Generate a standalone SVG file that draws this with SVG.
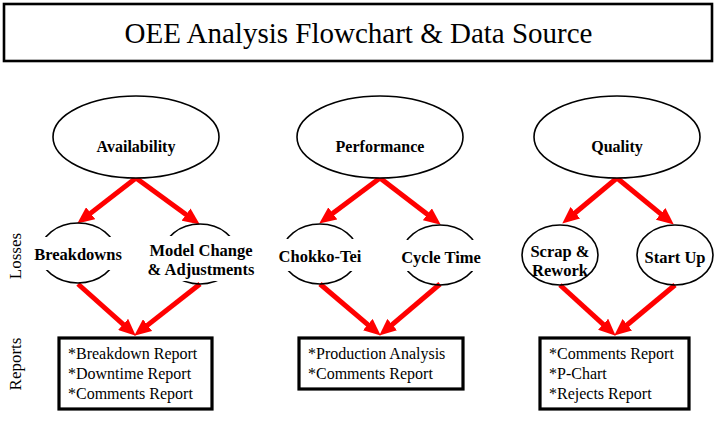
<svg xmlns="http://www.w3.org/2000/svg" width="715" height="431" viewBox="0 0 715 431">
<style>
.bg{fill:#ffffff}
.ell{fill:#ffffff;stroke:#000;stroke-width:1.6}
.sell{fill:none;stroke:#000;stroke-width:1.6}
.mask{fill:#ffffff;stroke:none}
.box{fill:#ffffff;stroke:#000;stroke-width:3.2}
.title{font-family:"Liberation Serif","Times New Roman",serif;font-size:29px;fill:#000}
.main{font-family:"Liberation Serif","Times New Roman",serif;font-size:16px;font-weight:bold;fill:#000;text-anchor:middle}
.loss{font-family:"Liberation Serif","Times New Roman",serif;font-size:16.5px;font-weight:bold;fill:#000;text-anchor:middle}
.rep{font-family:"Liberation Serif","Times New Roman",serif;font-size:16px;fill:#000}
.side{font-family:"Liberation Serif","Times New Roman",serif;font-size:17px;fill:#000;text-anchor:middle}
.arr{stroke:#ff0000;stroke-width:5;fill:none}
</style>
<defs>
<marker id="ah" markerUnits="userSpaceOnUse" markerWidth="17" markerHeight="15" refX="2" refY="7.5" orient="auto" viewBox="0 0 17 15">
<path d="M0,0 L17,7.5 L0,15 z" fill="#ff0000"/>
</marker>
</defs>
<rect class="bg" x="0" y="0" width="715" height="431"/>
<g id="title">
<rect x="4" y="4" width="708" height="57" fill="#fff" stroke="#000" stroke-width="2.6"/>
<text class="title" x="358.5" y="43" text-anchor="middle">OEE Analysis Flowchart &amp; Data Source</text>
</g>
<g id="labels">
<text class="side" transform="translate(21,256) rotate(-90)">Losses</text>
<text class="side" transform="translate(21,364) rotate(-90)">Reports</text>
</g>
<g id="connectors">
<line class="arr" x1="136" y1="178" x2="89.1" y2="214.4" marker-end="url(#ah)"/>
<line class="arr" x1="136" y1="178" x2="187.7" y2="215.7" marker-end="url(#ah)"/>
<line class="arr" x1="380" y1="178" x2="331.2" y2="214.6" marker-end="url(#ah)"/>
<line class="arr" x1="380" y1="178" x2="428.9" y2="215.5" marker-end="url(#ah)"/>
<line class="arr" x1="617" y1="178" x2="573.8" y2="214.0" marker-end="url(#ah)"/>
<line class="arr" x1="617" y1="178" x2="662.2" y2="215.1" marker-end="url(#ah)"/>
<line class="arr" x1="78" y1="284" x2="124.6" y2="325.7" marker-end="url(#ah)"/>
<line class="arr" x1="200" y1="284" x2="146.0" y2="326.4" marker-end="url(#ah)"/>
<line class="arr" x1="320" y1="284" x2="369.3" y2="325.9" marker-end="url(#ah)"/>
<line class="arr" x1="440" y1="284" x2="390.7" y2="325.9" marker-end="url(#ah)"/>
<line class="arr" x1="560" y1="285" x2="604.6" y2="325.6" marker-end="url(#ah)"/>
<line class="arr" x1="675" y1="285" x2="625.8" y2="326.0" marker-end="url(#ah)"/>
</g>
<g id="availability">
<ellipse class="ell" cx="136" cy="137" rx="83" ry="41"/>
<text class="main" x="136" y="152">Availability</text>
</g>
<g id="performance">
<ellipse class="ell" cx="380" cy="137" rx="83" ry="41"/>
<text class="main" x="380" y="152">Performance</text>
</g>
<g id="quality">
<ellipse class="ell" cx="617" cy="137" rx="83" ry="41"/>
<text class="main" x="617" y="152">Quality</text>
</g>
<g id="breakdowns">
<ellipse class="sell" cx="78" cy="253" rx="38" ry="30"/>
<rect class="mask" x="30" y="237" width="96" height="33"/>
<text class="loss" x="78" y="260">Breakdowns</text>
</g>
<g id="model-change">
<ellipse class="sell" cx="200" cy="254" rx="37" ry="30"/>
<rect class="mask" x="145" y="236" width="113" height="45"/>
<text class="loss" x="201" y="256">Model Change</text>
<text class="loss" x="201" y="275">&amp; Adjustments</text>
</g>
<g id="chokko-tei">
<ellipse class="sell" cx="320" cy="254" rx="38" ry="30"/>
<rect class="mask" x="275" y="239" width="91" height="32"/>
<text class="loss" x="320" y="262">Chokko-Tei</text>
</g>
<g id="cycle-time">
<ellipse class="sell" cx="440" cy="255" rx="38" ry="30"/>
<rect class="mask" x="397" y="240" width="89" height="31"/>
<text class="loss" x="441" y="263">Cycle Time</text>
</g>
<g id="scrap-rework">
<ellipse class="sell" cx="560" cy="255" rx="38" ry="30"/>
<text class="loss" x="560" y="257">Scrap &amp;</text>
<text class="loss" x="560" y="276">Rework</text>
</g>
<g id="start-up">
<ellipse class="sell" cx="675" cy="255" rx="38" ry="30"/>
<text class="loss" x="675" y="263">Start Up</text>
</g>
<g id="report-availability">
<rect class="box" x="59" y="338" width="153" height="71"/>
<text class="rep" x="68" y="359">*Breakdown Report</text>
<text class="rep" x="68" y="379">*Downtime Report</text>
<text class="rep" x="68" y="399">*Comments Report</text>
</g>
<g id="report-performance">
<rect class="box" x="299" y="338" width="164" height="51"/>
<text class="rep" x="308" y="359">*Production Analysis</text>
<text class="rep" x="308" y="379">*Comments Report</text>
</g>
<g id="report-quality">
<rect class="box" x="540" y="338" width="149" height="71"/>
<text class="rep" x="549" y="359">*Comments Report</text>
<text class="rep" x="549" y="379">*P-Chart</text>
<text class="rep" x="549" y="399">*Rejects Report</text>
</g>
</svg>
